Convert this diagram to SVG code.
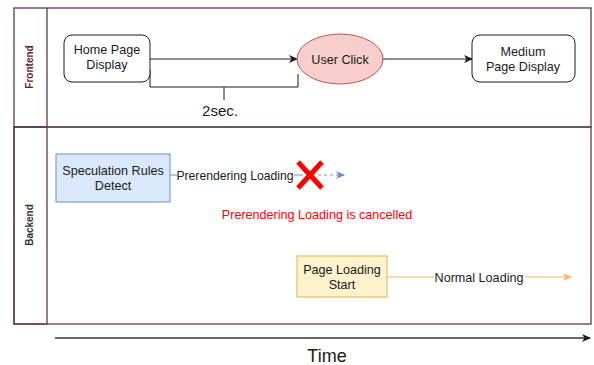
<svg xmlns="http://www.w3.org/2000/svg" width="594" height="365" viewBox="0 0 594 365">
<defs>
<style>
text{font-family:"Liberation Sans",Arial,sans-serif;font-size:12.6px;fill:#1a1a1a;text-anchor:middle}
.lane{fill:none;stroke:#5e3a4e;stroke-width:1.3}
.hdr{font-size:10px;font-weight:bold}
.conn{fill:none;stroke:#1a1a1a;stroke-width:1}
</style>
<marker id="ab" markerWidth="10" markerHeight="10" refX="8" refY="5" orient="auto" markerUnits="userSpaceOnUse">
<path d="M0,1 L9,5 L0,9 L2.5,5 Z" fill="#1a1a1a"/>
</marker>
<marker id="ablue" markerWidth="10" markerHeight="10" refX="8" refY="5" orient="auto" markerUnits="userSpaceOnUse">
<path d="M0,1 L9,5 L0,9 L2.5,5 Z" fill="#6c8ebf"/>
</marker>
<marker id="aor" markerWidth="10" markerHeight="10" refX="8" refY="5" orient="auto" markerUnits="userSpaceOnUse">
<path d="M0,1 L9,5 L0,9 L2.5,5 Z" fill="#ffb366"/>
</marker>
</defs>
<g id="lanes">
<rect x="14" y="8" width="577" height="119" fill="#fff" class="lane"/>
<rect x="14" y="127" width="577" height="197" fill="#fff" class="lane"/>
<rect x="14" y="127" width="33" height="197" fill="#f5f5f5" class="lane"/>
<line x1="47" y1="8" x2="47" y2="127" class="lane"/>
<text class="hdr" transform="translate(33,67) rotate(-90)" style="fill:#5c1f3a">Frontend</text>
<text class="hdr" transform="translate(33,225) rotate(-90)" style="fill:#333">Backend</text>
</g>
<g id="connectors">
<line x1="150" y1="59" x2="297" y2="59" class="conn" marker-end="url(#ab)"/>
<polyline points="150,70 150,87 298,87 298,74" class="conn"/>
<line x1="224" y1="87" x2="224" y2="100" class="conn"/>
<text x="220" y="116" style="font-size:15px">2sec.</text>
<line x1="383" y1="59" x2="472" y2="59" class="conn" marker-end="url(#ab)"/>
<line x1="170" y1="175" x2="300" y2="175" stroke="#6c8ebf" stroke-width="1"/>
<line x1="300" y1="175" x2="344" y2="175" stroke="#6c8ebf" stroke-width="1" stroke-dasharray="3,3" marker-end="url(#ablue)"/>
<rect x="177" y="168" width="117" height="14" fill="#fff"/>
<text x="235" y="179.5" style="font-size:12.2px">Prerendering Loading</text>
<line x1="387" y1="277" x2="571" y2="277" stroke="#ffb366" stroke-width="1" marker-end="url(#aor)"/>
<rect x="434" y="270" width="92" height="14" fill="#fff"/>
<text x="479" y="281.5">Normal Loading</text>
<line x1="55" y1="338" x2="590" y2="338" stroke="#333" stroke-width="1.3" marker-end="url(#ab)"/>
</g>
<g id="cross">
<path d="M298,162 L322,188 M322,162 L298,188" stroke="#ff0000" stroke-width="5"/>
</g>
<g id="home">
<rect x="64" y="35" width="86" height="47" rx="8" fill="#fff" stroke="#1a1a1a"/>
<text x="107" y="54">Home Page</text>
<text x="107" y="69">Display</text>
</g>
<g id="userclick">
<ellipse cx="340" cy="59" rx="43" ry="25" fill="#f8cecc" stroke="#b85450"/>
<text x="340" y="63.5">User Click</text>
</g>
<g id="medium">
<rect x="472" y="35" width="103" height="47" rx="8" fill="#fff" stroke="#1a1a1a"/>
<text x="523" y="56">Medium</text>
<text x="523" y="71">Page Display</text>
</g>
<g id="speculation">
<rect x="56" y="154" width="114" height="48" fill="#dae8fc" stroke="#6c8ebf"/>
<text x="113" y="175">Speculation Rules</text>
<text x="113" y="190">Detect</text>
</g>
<g id="cancelled">
<text x="317" y="218.5" style="fill:#ff0000">Prerendering Loading is cancelled</text>
</g>
<g id="pageloading">
<rect x="297" y="256" width="90" height="41" fill="#fff2cc" stroke="#d6b656"/>
<text x="342" y="274">Page Loading</text>
<text x="342" y="289">Start</text>
</g>
<g id="time">
<text x="327" y="362" style="font-size:18px">Time</text>
</g>
</svg>
